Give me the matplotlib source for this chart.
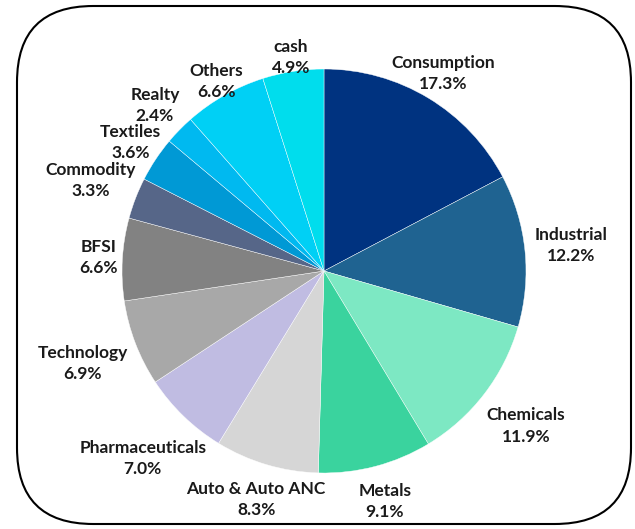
import numpy as np
import matplotlib.pyplot as plt
from matplotlib.patches import FancyBboxPatch

sectors = ["Consumption", "Industrial", "Chemicals", "Metals", "Auto & Auto ANC",
           "Pharmaceuticals", "Technology", "BFSI", "Commodity", "Textiles",
           "Realty", "Others", "cash"]
weights = [17.3, 12.2, 11.9, 9.1, 8.3, 7.0, 6.9, 6.6, 3.3, 3.6, 2.4, 6.6, 4.9]
colors = ["#003380", "#1f6391", "#7de8c3", "#3ad39e", "#d6d6d6", "#c0bce2",
          "#a8a8a8", "#828282", "#566688", "#0099d5", "#00b9f0", "#00d0f5", "#00dded"]

# how far out each label sits (in radii)
label_dist = [1.14, 1.23, 1.26, 1.18, 1.18, 1.29, 1.28, 1.12, 1.24, 1.15, 1.17, 1.08, 1.07]

W, H = 635, 529
fig = plt.figure(figsize=(W / 100, H / 100), dpi=100)

# rounded frame
frame = FancyBboxPatch((17 / W, 5 / H), 614 / W, 518 / H,
                       boxstyle="round,pad=0,rounding_size=0.12",
                       transform=fig.transFigure, fill=False,
                       edgecolor="black", linewidth=1.5,
                       mutation_aspect=W / H)
fig.patches.append(frame)

ax = fig.add_axes([0, 0, 1, 1])
cx, cy, r = 324, 271, 202

wedges, _ = ax.pie(weights, colors=colors, startangle=90, counterclock=False,
                   radius=1, wedgeprops=dict(edgecolor="white", linewidth=0.3))
ax.set_xlim(-cx / r, (W - cx) / r)
ax.set_ylim(-(H - cy) / r, cy / r)
ax.axis("off")

for w, name, val, d in zip(wedges, sectors, weights, label_dist):
    mid = np.deg2rad((w.theta1 + w.theta2) / 2)
    ax.text(d * np.cos(mid), d * np.sin(mid), f"{name}\n{val:.1f}%",
            ha="center", va="center", fontsize=12.5, fontweight="bold",
            family="Lato", color="#1a1a1a", linespacing=1.4)

fig.savefig("out.png", dpi=100)
